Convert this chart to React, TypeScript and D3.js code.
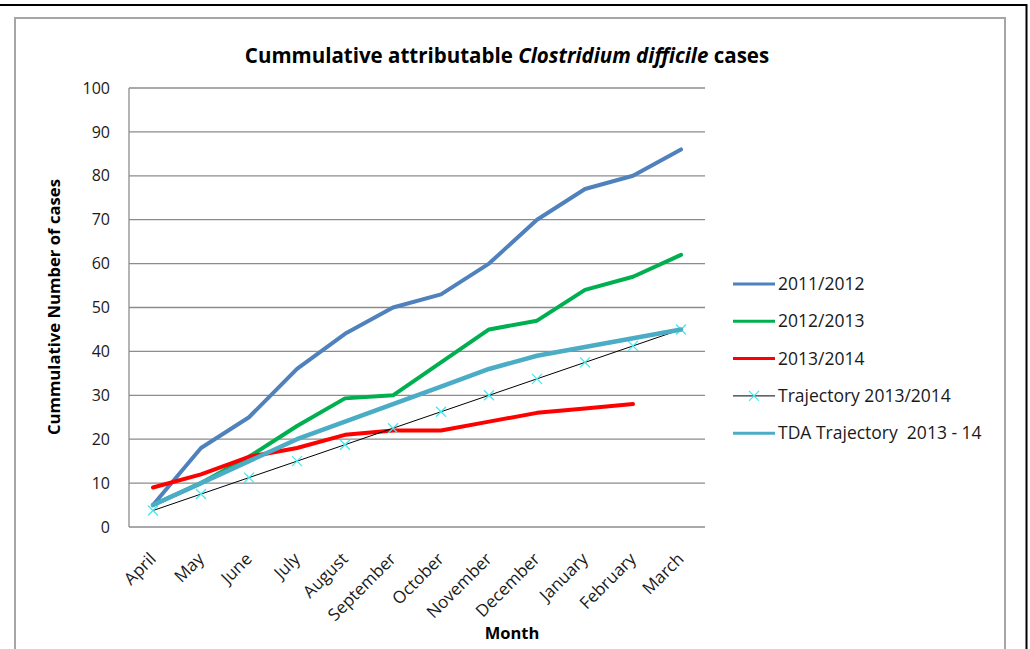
import React from "react";
import * as d3 from "d3";

const months = ["April", "May", "June", "July", "August", "September", "October", "November", "December", "January", "February", "March"];
const cases1112 = [5, 18, 25, 36, 44, 50, 53, 60, 70, 77, 80, 86];
const cases1213 = [5, 10, 16, 23, 29.3, 30, 37.5, 45, 47, 54, 57, 62];
const cases1314 = [9, 12, 16, 18, 21, 22, 22, 24, 26, 27, 28];
const trajectory1314 = [3.75, 7.5, 11.25, 15, 18.75, 22.5, 26.25, 30, 33.75, 37.5, 41.25, 45];
const tdaTrajectory = [5, 10, 15, 20, 24, 28, 32, 36, 39, 41, 43, 45];
const yTicks = [0, 10, 20, 30, 40, 50, 60, 70, 80, 90, 100];

const FONT = "'Open Sans', Lato, sans-serif";

const plot = { left: 129, right: 705, top: 88, bottom: 527 };

export default function App() {
  const x = d3.scaleBand<string>().domain(months).range([plot.left, plot.right]);
  const y = d3.scaleLinear().domain([0, 100]).range([plot.bottom, plot.top]);
  const cx = (m: string) => (x(m) as number) + x.bandwidth() / 2;

  const line = d3
    .line<number>()
    .x((_, i) => cx(months[i]))
    .y((d) => y(d));

  const series = [
    { name: "2011/2012", values: cases1112, color: "#4F81BD", width: 4 },
    { name: "2012/2013", values: cases1213, color: "#00B050", width: 4 },
    { name: "2013/2014", values: cases1314, color: "#FF0000", width: 4 },
    { name: "Trajectory 2013/2014", values: trajectory1314, color: "#000000", width: 1, marker: true },
    { name: "TDA Trajectory  2013 - 14", values: tdaTrajectory, color: "#4BACC6", width: 4.5 },
  ];

  const legendX = 733;
  const legendY0 = 284;
  const legendStep = 37.3;

  return (
    <svg
      width={1030}
      height={649}
      style={{ position: "absolute", left: 0, top: 0, background: "#fff" }}
      fontFamily={FONT}
    >
      <rect x={0} y={0} width={1030} height={649} fill="#fff" />
      {/* outer frame */}
      <line x1={0} y1={5} x2={1027} y2={5} stroke="#000" strokeWidth={2} />
      <line x1={1026.5} y1={4} x2={1026.5} y2={649} stroke="#000" strokeWidth={2} />
      {/* chart area border */}
      <rect x={15} y={18} width={990} height={640} fill="#fff" stroke="#A6A6A6" strokeWidth={2} />

      <text x={507} y={63} textAnchor="middle" fontSize={20.5} fontWeight="bold" fill="#000">
        Cummulative attributable <tspan fontStyle="italic">Clostridium difficile</tspan> cases
      </text>

      {/* gridlines */}
      {yTicks.map((t) => (
        <line key={t} x1={plot.left} x2={plot.right} y1={y(t)} y2={y(t)} stroke="#8C8C8C" strokeWidth={1.3} />
      ))}
      <line x1={plot.left} x2={plot.left} y1={plot.top} y2={plot.bottom} stroke="#8C8C8C" strokeWidth={1.3} />

      {yTicks.map((t) => (
        <text key={t} x={110} y={y(t)} dy="0.35em" textAnchor="end" fontSize={16} fill="#1a1a1a">
          {t}
        </text>
      ))}

      <text
        transform={`translate(60,307) rotate(-90)`}
        textAnchor="middle"
        fontSize={16.7}
        fontWeight="bold"
        fill="#000"
      >
        Cummulative Number of cases
      </text>

      {months.map((m) => (
        <text
          key={m}
          transform={`translate(${cx(m) + 4},${plot.bottom + 33}) rotate(-45)`}
          textAnchor="end"
          fontSize={17}
          fill="#1a1a1a"
        >
          {m}
        </text>
      ))}

      <text x={512} y={639} textAnchor="middle" fontSize={16.5} fontWeight="bold" fill="#000">
        Month
      </text>

      {/* series */}
      {series.map((s) => (
        <g key={s.name}>
          <path
            d={line(s.values) as string}
            fill="none"
            stroke={s.color}
            strokeWidth={s.width}
            strokeLinejoin="round"
            strokeLinecap="round"
          />
          {s.marker &&
            s.values.map((v, j) => {
              const px = cx(months[j]);
              const py = y(v);
              return (
                <g key={j} stroke="#3FE8F0" strokeWidth={1.3}>
                  <line x1={px - 5} y1={py - 5} x2={px + 5} y2={py + 5} />
                  <line x1={px - 5} y1={py + 5} x2={px + 5} y2={py - 5} />
                </g>
              );
            })}
        </g>
      ))}

      {/* legend */}
      {series.map((s, i) => {
        const ly = legendY0 + i * legendStep;
        return (
          <g key={s.name}>
            <line
              x1={legendX}
              x2={legendX + 42}
              y1={ly}
              y2={ly}
              stroke={s.color}
              strokeWidth={s.marker ? 1 : 3}
            />
            {s.marker && (
              <g stroke="#3FE8F0" strokeWidth={1.3}>
                <line x1={legendX + 16} y1={ly - 5} x2={legendX + 26} y2={ly + 5} />
                <line x1={legendX + 16} y1={ly + 5} x2={legendX + 26} y2={ly - 5} />
              </g>
            )}
            <text x={legendX + 45} y={ly} dy="0.35em" fontSize={17.5} fill="#1a1a1a" style={{ whiteSpace: "pre" }}>
              {s.name}
            </text>
          </g>
        );
      })}
    </svg>
  );
}
